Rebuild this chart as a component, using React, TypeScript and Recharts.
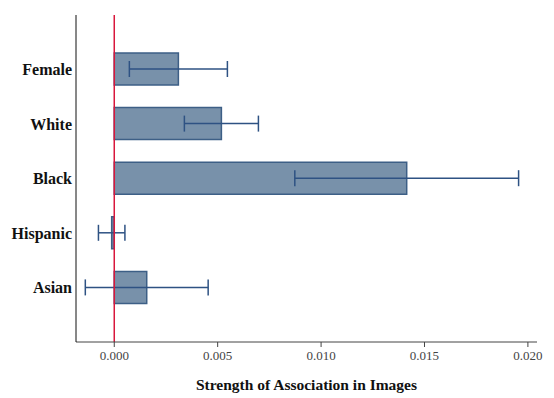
import React from 'react';
import { BarChart, Bar, XAxis, YAxis, ErrorBar, ReferenceLine } from 'recharts';

const groups = ['Female', 'White', 'Black', 'Hispanic', 'Asian'];
const estimates = [0.0031, 0.00518, 0.01414, -0.000125, 0.00157];
const errors = [0.00237, 0.00179, 0.00541, 0.00064, 0.00297];
const xTicks = [0, 0.005, 0.01, 0.015, 0.02];

const data = groups.map((g, i) => ({ group: g, value: estimates[i], err: errors[i] }));

const serif = 'Liberation Serif, DejaVu Serif, serif';

const App: React.FC = () => {
    return (
        <div style={{ position: 'absolute', left: 0, top: 0, background: '#fff', fontFamily: serif }}>
            <BarChart
                width={554}
                height={398}
                data={data}
                layout="vertical"
                margin={{ top: 15, right: 17, bottom: 0, left: 0 }}
                style={{ fontFamily: serif }}
            >
                <XAxis
                    type="number"
                    domain={[-0.00185, 0.02044]}
                    allowDataOverflow
                    ticks={xTicks}
                    tickFormatter={(v: number) => v.toFixed(3)}
                    height={56}
                    tickSize={5}
                    tickMargin={4}
                    stroke="#444"
                    tick={{ fill: '#444', fontSize: 13, fontFamily: serif }}
                    label={{
                        value: 'Strength of Association in Images',
                        position: 'insideBottom',
                        offset: 8,
                        fill: '#111',
                        fontSize: 15.5,
                        fontWeight: 'bold',
                        fontFamily: serif,
                    }}
                />
                <YAxis
                    type="category"
                    dataKey="group"
                    width={76}
                    tickSize={0}
                    tickMargin={4}
                    stroke="#111"
                    padding={{ top: 27, bottom: 27 }}
                    tick={{ fill: '#111', fontSize: 16, fontWeight: 'bold', fontFamily: serif }}
                />
                <Bar
                    dataKey="value"
                    fill="#7891aa"
                    stroke="#3d5f86"
                    strokeWidth={1.5}
                    barSize={32}
                    isAnimationActive={false}
                >
                    <ErrorBar dataKey="err" direction="x" width={8} stroke="#2e5283" strokeWidth={1.5} />
                </Bar>
                <ReferenceLine x={0} stroke="#d8173c" strokeWidth={1.5} />
            </BarChart>
        </div>
    );
};

export default App;
